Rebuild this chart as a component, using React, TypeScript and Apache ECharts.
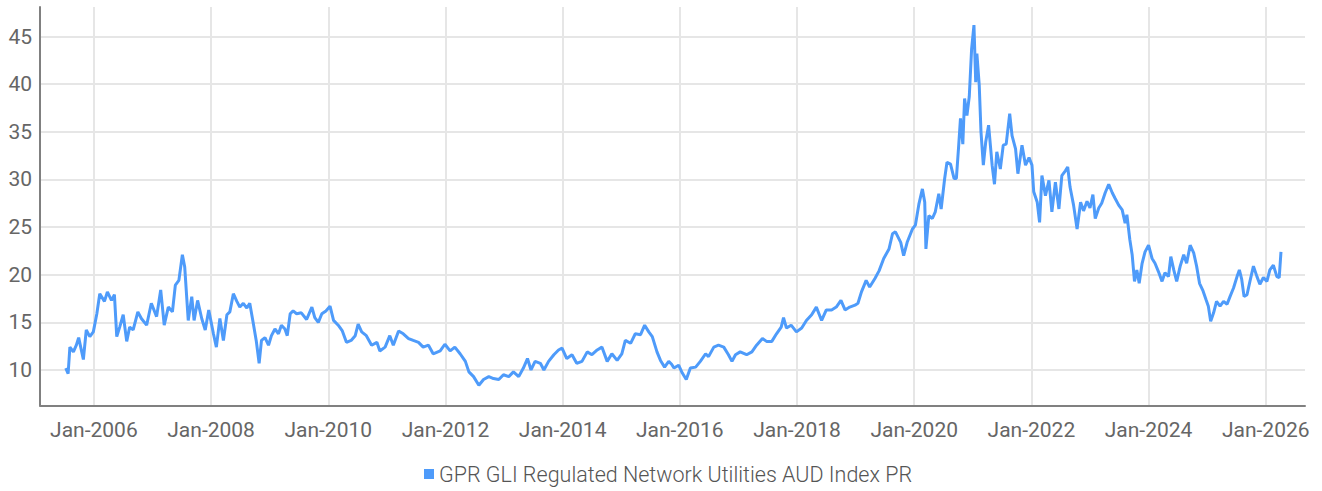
import React, { useEffect, useRef } from "react";
import * as echarts from "echarts";

const seriesName = "GPR GLI Regulated Network Utilities AUD Index PR";

// decimal year positions of the observations
const years: number[] = [
  2005.52, 2005.56, 2005.59, 2005.65, 2005.70, 2005.74, 2005.82, 2005.87, 2005.93, 2005.99,
  2006.05, 2006.10, 2006.18, 2006.23, 2006.30, 2006.35, 2006.39, 2006.44, 2006.50, 2006.56,
  2006.61, 2006.67, 2006.75, 2006.81, 2006.90, 2006.98, 2007.07, 2007.14, 2007.20, 2007.27,
  2007.34, 2007.39, 2007.45, 2007.51, 2007.55, 2007.61, 2007.67, 2007.71, 2007.77, 2007.84,
  2007.90, 2007.96, 2008.04, 2008.09, 2008.15, 2008.21, 2008.27, 2008.32, 2008.38, 2008.44,
  2008.49, 2008.55, 2008.61, 2008.66, 2008.72, 2008.77, 2008.82, 2008.86, 2008.92, 2008.98,
  2009.03, 2009.09, 2009.15, 2009.20, 2009.26, 2009.30, 2009.35, 2009.40, 2009.46, 2009.54,
  2009.63, 2009.72, 2009.77, 2009.83, 2009.89, 2009.96, 2010.03, 2010.09, 2010.17, 2010.24,
  2010.31, 2010.39, 2010.46, 2010.51, 2010.57, 2010.65, 2010.74, 2010.83, 2010.88, 2010.97,
  2011.05, 2011.11, 2011.20, 2011.28, 2011.37, 2011.45, 2011.54, 2011.62, 2011.71, 2011.79,
  2011.91, 2011.99, 2012.08, 2012.16, 2012.25, 2012.34, 2012.40, 2012.48, 2012.57, 2012.65,
  2012.74, 2012.82, 2012.91, 2012.99, 2013.08, 2013.16, 2013.25, 2013.33, 2013.40, 2013.46,
  2013.53, 2013.62, 2013.68, 2013.76, 2013.85, 2013.93, 2013.99, 2014.07, 2014.16, 2014.24,
  2014.33, 2014.42, 2014.50, 2014.59, 2014.67, 2014.76, 2014.84, 2014.93, 2015.01, 2015.07,
  2015.16, 2015.24, 2015.33, 2015.40, 2015.47, 2015.53, 2015.61, 2015.67, 2015.74, 2015.81,
  2015.86, 2015.90, 2015.98, 2016.04, 2016.11, 2016.18, 2016.27, 2016.35, 2016.44, 2016.49,
  2016.58, 2016.66, 2016.75, 2016.83, 2016.89, 2016.95, 2017.03, 2017.14, 2017.23, 2017.31,
  2017.41, 2017.48, 2017.57, 2017.65, 2017.73, 2017.77, 2017.82, 2017.90, 2017.99, 2018.08,
  2018.16, 2018.25, 2018.33, 2018.42, 2018.50, 2018.59, 2018.67, 2018.75, 2018.82, 2018.90,
  2018.99, 2019.04, 2019.10, 2019.18, 2019.24, 2019.33, 2019.40, 2019.48, 2019.57, 2019.63,
  2019.68, 2019.77, 2019.82, 2019.88, 2019.97, 2020.02, 2020.08, 2020.14, 2020.18, 2020.20,
  2020.25, 2020.31, 2020.36, 2020.42, 2020.46, 2020.52, 2020.56, 2020.62, 2020.68, 2020.72,
  2020.76, 2020.79, 2020.83, 2020.86, 2020.90, 2020.94, 2020.98, 2021.02, 2021.05, 2021.07,
  2021.11, 2021.14, 2021.18, 2021.22, 2021.27, 2021.33, 2021.37, 2021.41, 2021.47, 2021.52,
  2021.57, 2021.63, 2021.67, 2021.73, 2021.77, 2021.84, 2021.90, 2021.96, 2022.01, 2022.04,
  2022.10, 2022.14, 2022.18, 2022.24, 2022.30, 2022.35, 2022.41, 2022.47, 2022.52, 2022.58,
  2022.62, 2022.66, 2022.72, 2022.78, 2022.84, 2022.89, 2022.95, 2023.00, 2023.05, 2023.09,
  2023.15, 2023.20, 2023.26, 2023.32, 2023.38, 2023.43, 2023.49, 2023.55, 2023.60, 2023.63,
  2023.68, 2023.72, 2023.76, 2023.80, 2023.84, 2023.89, 2023.94, 2024.00, 2024.06, 2024.11,
  2024.17, 2024.23, 2024.28, 2024.34, 2024.38, 2024.43, 2024.48, 2024.54, 2024.60, 2024.65,
  2024.71, 2024.77, 2024.82, 2024.87, 2024.93, 2024.98, 2025.02, 2025.06, 2025.11, 2025.16,
  2025.22, 2025.28, 2025.34, 2025.39, 2025.45, 2025.51, 2025.55, 2025.59, 2025.63, 2025.68,
  2025.73, 2025.79, 2025.85, 2025.90, 2025.96, 2026.02, 2026.07, 2026.13, 2026.19, 2026.23,
  2026.26,
];

const indexValues: number[] = [
  10.2, 9.6, 12.4, 11.9, 12.6, 13.4, 11.1, 14.2, 13.5, 14.0,
  15.9, 18.0, 17.2, 18.2, 17.3, 17.9, 13.5, 14.5, 15.8, 13.0,
  14.5, 14.2, 16.1, 15.4, 14.7, 17.0, 15.6, 18.4, 14.7, 16.6,
  16.1, 18.9, 19.4, 22.1, 20.8, 15.2, 17.7, 15.2, 17.3, 15.4,
  14.2, 16.3, 13.8, 12.4, 15.4, 13.1, 15.8, 16.1, 18.0, 17.2,
  16.6, 17.0, 16.5, 17.0, 14.9, 13.1, 10.7, 13.1, 13.4, 12.6,
  13.6, 14.3, 13.8, 14.7, 14.3, 13.6, 15.9, 16.2, 15.9, 16.0,
  15.3, 16.6, 15.5, 15.0, 15.9, 16.2, 16.7, 15.2, 14.7, 14.1,
  12.9, 13.1, 13.6, 14.8, 14.0, 13.6, 12.6, 12.9, 12.0, 12.4,
  13.6, 12.6, 14.1, 13.8, 13.3, 13.1, 12.9, 12.4, 12.6, 11.7,
  12.0, 12.7, 12.0, 12.4, 11.7, 10.9, 9.8, 9.3, 8.4, 9.0,
  9.3, 9.1, 9.0, 9.5, 9.3, 9.8, 9.3, 10.2, 11.2, 10.0,
  10.9, 10.7, 10.0, 10.9, 11.6, 12.1, 12.3, 11.2, 11.6, 10.7,
  10.9, 11.9, 11.6, 12.1, 12.4, 10.9, 11.7, 11.0, 11.7, 13.1,
  12.8, 13.8, 13.7, 14.7, 14.0, 13.5, 11.9, 11.0, 10.3, 10.9,
  10.6, 10.2, 10.5, 9.7, 9.0, 10.2, 10.3, 10.9, 11.7, 11.4,
  12.4, 12.6, 12.4, 11.6, 10.9, 11.6, 11.9, 11.6, 11.9, 12.6,
  13.3, 13.0, 13.0, 13.8, 14.5, 15.5, 14.4, 14.7, 14.0, 14.4,
  15.2, 15.8, 16.6, 15.2, 16.3, 16.3, 16.6, 17.3, 16.3, 16.6,
  16.8, 17.0, 18.2, 19.4, 18.7, 19.6, 20.4, 21.7, 22.7, 24.3,
  24.5, 23.4, 22.0, 23.4, 24.8, 25.2, 27.4, 29.0, 27.6, 22.7,
  26.2, 25.9, 26.6, 28.5, 26.9, 30.1, 31.8, 31.6, 30.1, 30.1,
  33.6, 36.4, 33.7, 38.5, 36.7, 38.7, 43.7, 46.2, 40.2, 43.2,
  39.9, 35.0, 31.5, 33.9, 35.7, 31.5, 29.5, 32.9, 31.1, 33.6,
  33.7, 36.9, 34.6, 33.2, 30.6, 33.6, 31.5, 32.3, 31.5, 28.7,
  27.6, 25.5, 30.4, 28.3, 29.9, 26.6, 29.7, 26.9, 30.4, 30.9,
  31.3, 29.2, 27.3, 24.8, 27.6, 26.7, 27.7, 27.0, 28.4, 25.9,
  27.0, 27.5, 28.6, 29.5, 28.6, 28.0, 27.3, 26.8, 25.4, 26.3,
  23.7, 22.1, 19.3, 20.5, 19.1, 21.2, 22.4, 23.1, 21.7, 21.2,
  20.3, 19.3, 20.2, 19.8, 21.9, 20.5, 19.3, 20.9, 22.1, 21.2,
  23.1, 22.3, 20.9, 19.1, 18.3, 17.4, 16.7, 15.1, 16.0, 17.2,
  16.7, 17.2, 16.9, 17.7, 18.6, 19.8, 20.5, 19.5, 17.7, 17.9,
  19.3, 20.9, 19.8, 19.0, 19.7, 19.3, 20.5, 21.0, 19.8, 19.7,
  22.4,
];

const xTickYears: number[] = [2006, 2008, 2010, 2012, 2014, 2016, 2018, 2020, 2022, 2024, 2026];
const yTickValues: number[] = [10, 15, 20, 25, 30, 35, 40, 45];

const axisFont = "Roboto, 'Liberation Sans', sans-serif";
const legendFont = "Roboto, 'Liberation Sans', sans-serif";

export default function App() {
  const ref = useRef<HTMLDivElement>(null);

  useEffect(() => {
    if (!ref.current) return;
    const chart = echarts.init(ref.current, undefined, { renderer: "svg" });
    const data = years.map((y, i) => [y, indexValues[i]]);
    chart.setOption({
      animation: false,
      backgroundColor: "#ffffff",
      grid: { left: 40, right: 17, top: 7, bottom: 85.5, containLabel: false },
      legend: {
        data: [seriesName],
        left: 424,
        top: 463,
        padding: 0,
        icon: "rect",
        itemWidth: 10,
        itemHeight: 10,
        textStyle: { fontFamily: legendFont, fontSize: 21.5, fontWeight: 300, color: "#555555" },
      },
      xAxis: {
        type: "value",
        min: 2005.08,
        max: 2026.67,
        axisLine: { show: true, lineStyle: { color: "#808080", width: 2 } },
        axisTick: { show: false, customValues: xTickYears },
        axisLabel: {
          customValues: xTickYears,
          formatter: (v: number) => "Jan-" + Math.round(v),
          fontFamily: axisFont,
          fontSize: 21,
          color: "#666666",
          margin: 14,
        },
        splitLine: { show: true, lineStyle: { color: "#e6e6e6", width: 2 } },
      },
      yAxis: {
        type: "value",
        min: 6.27,
        max: 48.1,
        axisLine: { show: true, lineStyle: { color: "#808080", width: 2 } },
        axisTick: { show: false, customValues: yTickValues },
        axisLabel: {
          customValues: yTickValues,
          fontFamily: axisFont,
          fontSize: 21,
          color: "#666666",
          margin: 8,
        },
        splitLine: { show: true, lineStyle: { color: "#e6e6e6", width: 2 } },
      },
      series: [
        {
          name: seriesName,
          type: "line",
          data,
          showSymbol: false,
          symbol: "none",
          lineStyle: { color: "#4e9bfa", width: 3 },
          itemStyle: { color: "#4e9bfa" },
        },
      ],
    });
    return () => chart.dispose();
  }, []);

  return (
    <div
      ref={ref}
      style={{ position: "fixed", left: 0, top: 0, width: 1322, height: 491, background: "#fff" }}
    />
  );
}
